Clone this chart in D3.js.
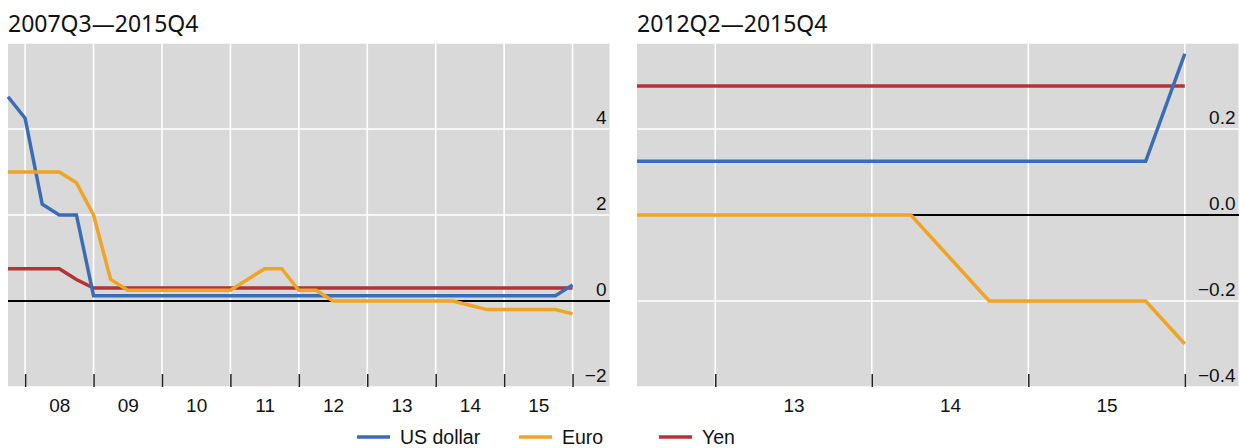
<!DOCTYPE html>
<html>
<head>
<meta charset="utf-8">
<script src="https://cdn.jsdelivr.net/npm/d3@7"></script>
<style>
  html, body { margin: 0; padding: 0; background: #fff; }
  svg { display: block; }
  .title { font-family: "Noto Sans", "Liberation Sans", sans-serif; font-size: 23px; fill: #111; }
  .tick text { font-family: "Liberation Sans", Arial, sans-serif; font-size: 19px; fill: #111; }
  .legend text { font-family: "Liberation Sans", Arial, sans-serif; font-size: 19.5px; fill: #111; }
</style>
</head>
<body>
<div id="chart"></div>
<script>
// Quarterly policy rates, plotted at quarter end
const quarters = [
  "2007Q3", "2007Q4",
  "2008Q1", "2008Q2", "2008Q3", "2008Q4",
  "2009Q1", "2009Q2", "2009Q3", "2009Q4",
  "2010Q1", "2010Q2", "2010Q3", "2010Q4",
  "2011Q1", "2011Q2", "2011Q3", "2011Q4",
  "2012Q1", "2012Q2", "2012Q3", "2012Q4",
  "2013Q1", "2013Q2", "2013Q3", "2013Q4",
  "2014Q1", "2014Q2", "2014Q3", "2014Q4",
  "2015Q1", "2015Q2", "2015Q3", "2015Q4"
];
const usDollar = [
  4.75, 4.25,
  2.25, 2.0, 2.0, 0.125,
  0.125, 0.125, 0.125, 0.125,
  0.125, 0.125, 0.125, 0.125,
  0.125, 0.125, 0.125, 0.125,
  0.125, 0.125, 0.125, 0.125,
  0.125, 0.125, 0.125, 0.125,
  0.125, 0.125, 0.125, 0.125,
  0.125, 0.125, 0.125, 0.375
];
const euro = [
  3.0, 3.0,
  3.0, 3.0, 2.75, 2.0,
  0.5, 0.25, 0.25, 0.25,
  0.25, 0.25, 0.25, 0.25,
  0.5, 0.75, 0.75, 0.25,
  0.25, 0, 0, 0,
  0, 0, 0, 0,
  0, -0.1, -0.2, -0.2,
  -0.2, -0.2, -0.2, -0.3
];
const yen = [
  0.75, 0.75,
  0.75, 0.75, 0.5, 0.3,
  0.3, 0.3, 0.3, 0.3,
  0.3, 0.3, 0.3, 0.3,
  0.3, 0.3, 0.3, 0.3,
  0.3, 0.3, 0.3, 0.3,
  0.3, 0.3, 0.3, 0.3,
  0.3, 0.3, 0.3, 0.3,
  0.3, 0.3, 0.3, 0.3
];

const seriesNames = ["US dollar", "Euro", "Yen"];
const seriesColors = { "US dollar": "#3b6db4", "Euro": "#f0a425", "Yen": "#b23434" };

// panels: titles, first quarter shown, y ticks, x ticks (year boundaries) and year labels
const panelTitles = ["2007Q3\u20142015Q4", "2012Q2\u20142015Q4"];
const panelStart = ["2007Q3", "2012Q2"];
const panelYDomain = [[-2, 6], [-0.4, 0.4]];
const panelYTicks = [[-2, 0, 2, 4], [-0.4, -0.2, 0.0, 0.2]];
const panelYears = [
  [2008, 2009, 2010, 2011, 2012, 2013, 2014, 2015],
  [2013, 2014, 2015]
];

const W = 1240, H = 448;
const TOP = 43, BOTTOM = 387;
const PANEL_X = [8, 637];
const PANEL_W = 601.5;
const LABEL_SPACE = [0.54, 0.343]; // years of empty space right of the last quarter

const qToYear = (q) => +q.slice(0, 4) + +q.slice(5) / 4;
const fmtMinus = (s) => s.replace("-", "\u2212");

const svg = d3.select("#chart").append("svg")
  .attr("width", W).attr("height", H);

panelTitles.forEach((title, p) => {
  const startIdx = quarters.indexOf(panelStart[p]);
  const qs = quarters.slice(startIdx);
  const data = {
    "US dollar": usDollar.slice(startIdx),
    "Euro": euro.slice(startIdx),
    "Yen": yen.slice(startIdx)
  };
  const x0 = qToYear(qs[0]);
  const x1 = qToYear(qs[qs.length - 1]) + LABEL_SPACE[p];

  const x = d3.scaleLinear().domain([x0, x1]).range([PANEL_X[p], PANEL_X[p] + PANEL_W]);
  const y = d3.scaleLinear().domain(panelYDomain[p]).range([BOTTOM, TOP]);
  const left = PANEL_X[p], right = PANEL_X[p] + PANEL_W;

  const g = svg.append("g");

  g.append("text").attr("class", "title")
    .attr("x", left).attr("y", 32).text(title);

  g.append("rect")
    .attr("x", left).attr("y", TOP)
    .attr("width", PANEL_W).attr("height", BOTTOM - TOP)
    .attr("fill", "#d9d9d9");

  // white gridlines
  const boundaries = panelYears[p].concat([panelYears[p][panelYears[p].length - 1] + 1]);
  g.selectAll(".vgrid").data(boundaries).enter().append("line")
    .attr("x1", (d) => x(d)).attr("x2", (d) => x(d))
    .attr("y1", TOP).attr("y2", BOTTOM)
    .attr("stroke", "#fff").attr("stroke-width", 1.6);
  const hgrid = panelYTicks[p].filter((d) => d !== 0).concat([panelYDomain[p][1]]);
  g.selectAll(".hgrid").data(hgrid).enter().append("line")
    .attr("x1", left).attr("x2", right)
    .attr("y1", (d) => y(d)).attr("y2", (d) => y(d))
    .attr("stroke", "#fff").attr("stroke-width", 1.6);

  // zero line
  g.append("line")
    .attr("x1", left).attr("x2", right)
    .attr("y1", y(0)).attr("y2", y(0))
    .attr("stroke", "#000").attr("stroke-width", 1.3)
    .attr("shape-rendering", "crispEdges");

  // year-boundary ticks pointing up from the bottom
  g.append("g")
    .attr("transform", `translate(0,${BOTTOM})`)
    .call(d3.axisBottom(x).tickValues(boundaries).tickSize(-13).tickFormat(""))
    .call((a) => a.select(".domain").remove())
    .call((a) => a.selectAll("line").attr("stroke", "#222").attr("stroke-width", 1.5));

  // year labels mid-year
  g.append("g")
    .attr("transform", `translate(0,${BOTTOM})`)
    .call(d3.axisBottom(x)
      .tickValues(panelYears[p].map((yr) => yr + 0.5))
      .tickSize(0).tickPadding(12)
      .tickFormat((d) => String(Math.floor(d)).slice(2)))
    .call((a) => a.select(".domain").remove());

  // y labels inside the plot, right-aligned, sitting on their gridline
  const yFmt = p === 0 ? d3.format("d") : d3.format(".1f");
  g.append("g")
    .attr("transform", `translate(${right - 3},0)`)
    .call(d3.axisLeft(y).tickValues(panelYTicks[p]).tickSize(0).tickPadding(0)
      .tickFormat((d) => fmtMinus(yFmt(d))))
    .call((a) => a.select(".domain").remove())
    .call((a) => a.selectAll("text").attr("dy", "-0.3em"));

  const line = d3.line()
    .x((d, i) => x(qToYear(qs[i])))
    .y((d) => y(d));

  ["Yen", "US dollar", "Euro"].forEach((name) => {
    g.append("path")
      .datum(data[name])
      .attr("fill", "none")
      .attr("stroke", seriesColors[name])
      .attr("stroke-width", 3.5)
      .attr("stroke-linejoin", "miter")
      .attr("d", line);
  });
});

// legend
const legendX = [357, 519, 659];
const legend = svg.append("g").attr("class", "legend");
seriesNames.forEach((name, i) => {
  const it = legend.append("g").attr("transform", `translate(${legendX[i]},437)`);
  it.append("line").attr("x1", 0).attr("x2", 33)
    .attr("stroke", seriesColors[name]).attr("stroke-width", 3.5);
  it.append("text").attr("x", 43).attr("dy", "0.35em").text(name);
});
</script>
</body>
</html>
